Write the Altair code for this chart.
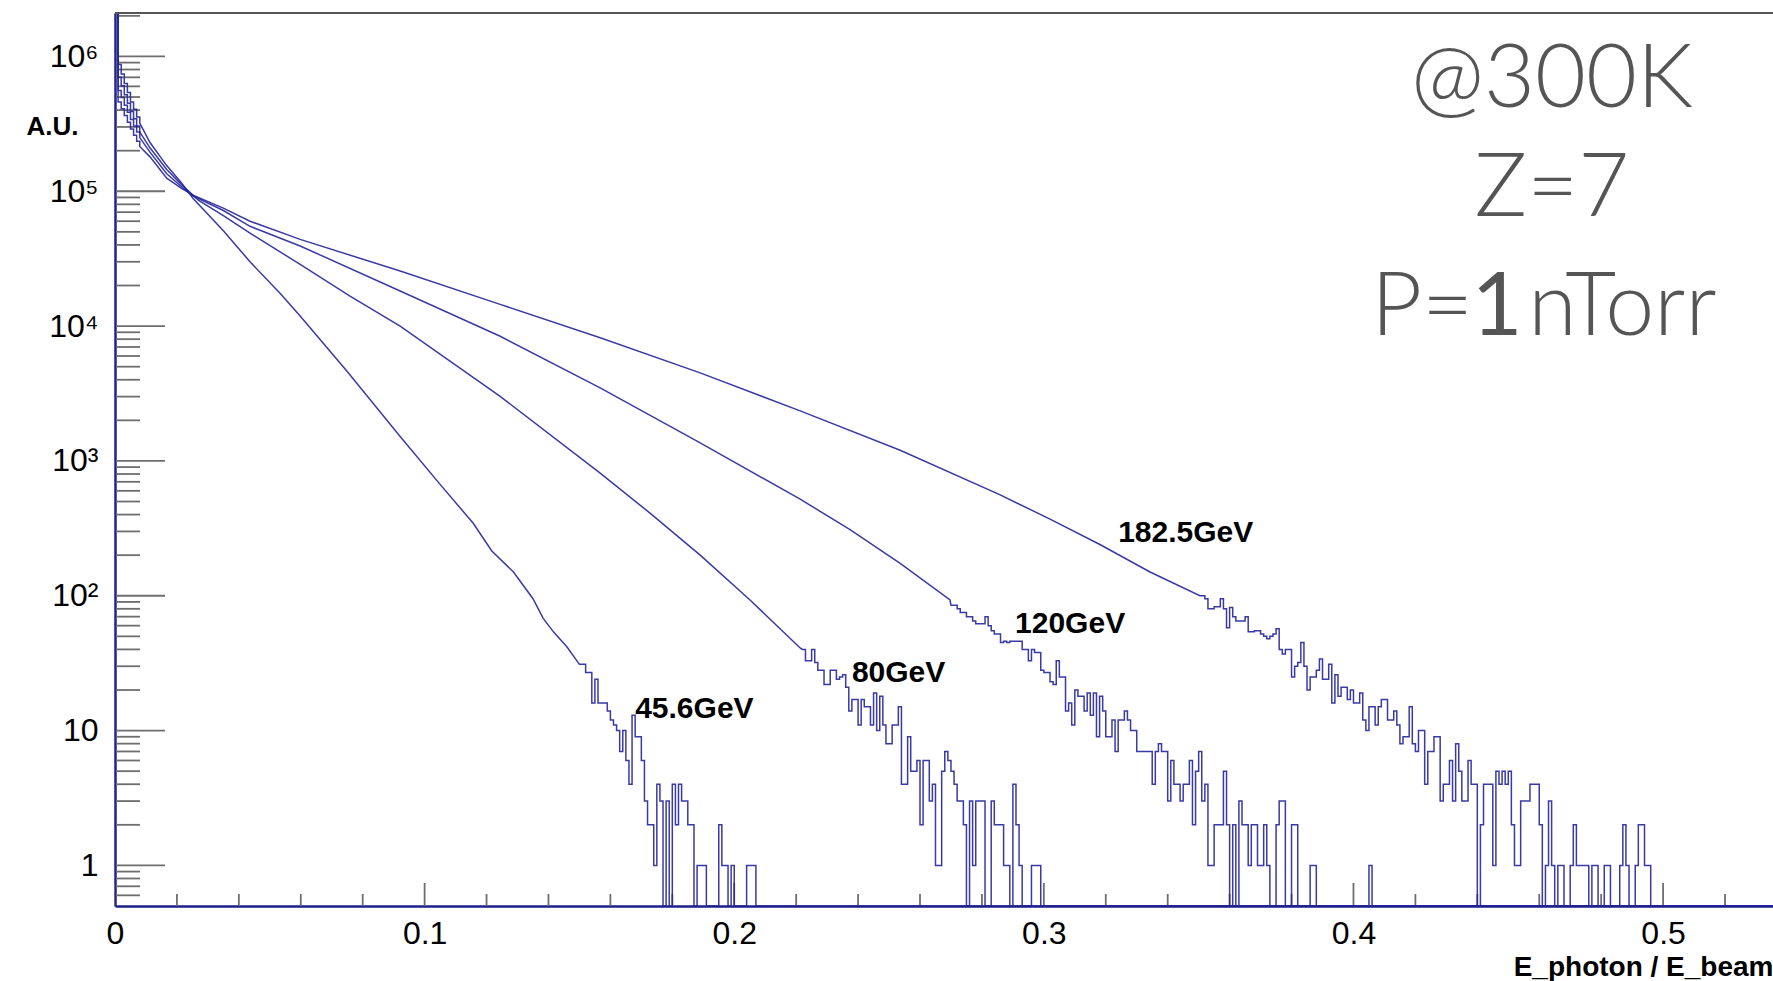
import altair as alt
import pandas as pd

# ---------------------------------------------------------------------------
# Photon spectrum E_photon / E_beam, histograms with 0.001-wide bins
# ---------------------------------------------------------------------------
BIN_W = 0.001
Y_MIN, Y_MAX = 0.5, 2.1e6
X_MAX = 0.5355
W, H = 1658, 893

FONT = "Liberation Sans"
LINE_COLOR = "#25259c"
TICK_COLOR = "#6e6e6e"

series_names = ["45.6GeV", "80GeV", "120GeV", "182.5GeV"]

# --- 45.6 GeV -------------------------------------------------------------
head_456 = [3.0e6, 8.7e5, 7.4e5, 6.3e5, 5.4e5, 4.6e5, 4.05e5, 3.55e5]
knots_456_x = [0.008, 0.0113, 0.0167, 0.0215, 0.0253, 0.035, 0.0436, 0.0533, 0.0598,
               0.075, 0.0921, 0.105, 0.1157, 0.1217, 0.1287, 0.135, 0.1383, 0.1416, 0.146]
knots_456_v = [3.2e5, 2.3e5, 1.55e5, 1.15e5, 8.8e4, 5.1e4, 3.0e4, 1.75e4, 1.19e4,
               4.6e3, 1.52e3, 670, 345, 215, 150, 95, 68, 54, 41.7]
tail_456_start = 150
tail_456 = [31, 31, 27, 27, 16, 24, 16, 16, 16, 14, 12, 11, 10, 7, 10, 6, 4, 13, 9, 9,
            6, 3, 2, 2, 1, 4, 3, 0, 3, 0, 4, 2, 4, 3, 3, 2, 2, 0, 1, 1,
            1, 0, 0, 0, 0, 2, 1, 1, 0, 1, 0, 0, 0, 0, 1, 1, 1]

# --- 80 GeV ---------------------------------------------------------------
head_80 = [3.0e6, 7.0e5, 6.05e5, 5.2e5, 4.5e5, 3.9e5, 3.45e5, 3.05e5]
knots_80_x = [0.008, 0.0113, 0.0167, 0.0215, 0.0269, 0.035, 0.0436, 0.0598, 0.0759,
              0.0921, 0.1244, 0.1567, 0.1728, 0.189, 0.2051, 0.2213]
knots_80_v = [2.75e5, 2.1e5, 1.45e5, 1.12e5, 8.6e4, 6.6e4, 4.9e4, 2.87e4, 1.67e4,
              9.98e3, 3.01e3, 813, 410, 200, 93, 41]
tail_80_start = 222
tail_80 = [40, 33, 33, 40, 32, 28, 28, 22, 22, 28, 28, 24, 25, 26, 21, 14, 17, 17, 11, 17,
           15, 15, 11, 19, 10, 18, 11, 8, 8, 11, 11, 15, 4, 4, 9, 5, 5, 6, 2, 6,
           6, 3, 4, 1, 1, 5, 7, 6, 5, 4, 3, 3, 2, 0, 3, 1, 3, 3, 3, 0,
           0, 3, 2, 2, 2, 1, 1, 0, 4, 2, 1, 0, 0, 0, 1, 1, 1]

# --- 120 GeV --------------------------------------------------------------
head_120 = [3.0e6, 5.6e5, 4.95e5, 4.35e5, 3.85e5, 3.4e5, 3.05e5, 2.75e5]
knots_120_x = [0.008, 0.0113, 0.0167, 0.0215, 0.025, 0.035, 0.0436, 0.0598, 0.0921,
               0.1244, 0.1567, 0.189, 0.2213, 0.2374, 0.2536, 0.2697]
knots_120_v = [2.5e5, 1.95e5, 1.35e5, 1.08e5, 9.3e4, 7.2e4, 5.5e4, 3.93e4, 1.82e4,
               8.41e3, 3.48e3, 1.36e3, 520, 310, 174, 93]
tail_120_start = 270
tail_120 = [85, 85, 80, 75, 75, 70, 70, 65, 62, 62, 62, 70, 60, 55, 52, 52, 45, 46, 45, 46,
            46, 46, 46, 40, 40, 33, 40, 38, 38, 28, 27, 27, 23, 22, 33, 25, 25, 14, 16, 11,
            20, 18, 18, 14, 19, 13, 19, 9, 18, 14, 9, 9, 12, 7, 12, 12, 14, 12, 10, 10,
            7, 7, 7, 7, 7, 4, 7, 8, 7, 7, 3, 6, 4, 4, 3, 4, 4, 6, 2, 5,
            7, 3, 4, 1, 1, 2, 2, 2, 5, 2, 0, 2, 0, 3, 2, 2, 1, 2, 2, 1,
            1, 2, 1, 0, 0, 2, 3, 3, 0, 0, 2, 2, 0, 0, 0, 0, 1, 1, 0, 0,
            0, 0, 0, 0, 0, 0, 0, 0, 0, 0, 0, 0, 0, 0, 0, 1]

# --- 182.5 GeV ------------------------------------------------------------
head_1825 = [3.0e6, 4.6e5, 4.1e5, 3.65e5, 3.25e5, 2.9e5, 2.6e5, 2.35e5]
knots_1825_x = [0.008, 0.0113, 0.0167, 0.0215, 0.025, 0.035, 0.0436, 0.0598, 0.0921,
                0.1244, 0.1567, 0.189, 0.2213, 0.2536, 0.2859, 0.302, 0.3181, 0.3343, 0.3504]
knots_1825_v = [2.15e5, 1.8e5, 1.25e5, 1.05e5, 9.4e4, 7.5e4, 6.0e4, 4.4e4, 2.56e4,
                1.45e4, 8.2e3, 4.5e3, 2.35e3, 1.2e3, 560, 370, 240, 150, 100]
tail_1825_start = 351
tail_1825 = [100, 95, 80, 80, 83, 83, 95, 80, 58, 82, 70, 65, 65, 65, 70, 54, 54, 55, 55, 52,
             50, 48, 50, 52, 57, 40, 37, 40, 40, 25, 30, 32, 45, 30, 20, 25, 25, 28, 34, 24,
             24, 31, 16, 26, 18, 21, 21, 17, 20, 16, 16, 19, 12, 10, 15, 15, 11, 15, 17, 17,
             12, 12, 14, 11, 8, 9, 9, 15, 8, 7, 10, 10, 4, 7, 7, 9, 9, 3, 4, 4,
             6, 3, 8, 5, 3, 3, 6, 4, 4, 0, 2, 4, 4, 4, 1, 5, 4, 5, 4, 5,
             2, 1, 1, 3, 3, 3, 4, 4, 4, 2, 0, 1, 3, 1, 0, 1, 1, 0, 0, 1,
             2, 1, 1, 1, 1, 0, 1, 1, 0, 0, 1, 1, 0, 0, 0, 1, 2, 1, 0, 0,
             1, 2, 2, 1, 1]

# Curve labels (left end, baseline) in data coordinates
label_x = [0.168, 0.238, 0.2907, 0.324]
label_v = [12.3, 23, 52.6, 252]

# Run conditions
note_x = 0.4641
note_lines = ["@300K", "Z=7"]
note_v = [4.21e5, 6.52e4]
pressure_x = 0.4464
pressure_v = 8.66e3

# Axis labels
X_LABELS = [0, 0.1, 0.2, 0.3, 0.4, 0.5]
Y_MAJOR = [1, 10, 100, 1e3, 1e4, 1e5, 1e6]


def histogram_points(name, head, kx, kv, t0, tail):
    """Outline of one histogram: stepped head bins, sampled body, stepped tail."""
    pts = [(0.0, Y_MIN)]
    for i, h in enumerate(head):
        pts += [(i * BIN_W, h), ((i + 1) * BIN_W, h)]
    pts += list(zip(kx, kv))
    for j, c in enumerate(tail):
        lo = (t0 + j) * BIN_W
        val = c if c > 0 else Y_MIN  # empty bins sit on the frame bottom
        pts += [(lo, val), (lo + BIN_W, val)]
    pts.append((pts[-1][0], Y_MIN))
    pts.append((X_MAX, Y_MIN))
    return pd.DataFrame({
        "x": [p[0] for p in pts],
        "v": [p[1] for p in pts],
        "i": list(range(len(pts))),
        "series": name,
    })


hist_df = pd.concat([
    histogram_points(series_names[0], head_456, knots_456_x, knots_456_v, tail_456_start, tail_456),
    histogram_points(series_names[1], head_80, knots_80_x, knots_80_v, tail_80_start, tail_80),
    histogram_points(series_names[2], head_120, knots_120_x, knots_120_v, tail_120_start, tail_120),
    histogram_points(series_names[3], head_1825, knots_1825_x, knots_1825_v, tail_1825_start, tail_1825),
], ignore_index=True)

# Tick positions (ROOT style: ticks inside the frame)
y_minor = [m * 10 ** k for k in range(-1, 7) for m in range(2, 10) if Y_MIN < m * 10 ** k < Y_MAX]
x_minor = [round(k * 0.02, 2) for k in range(1, 27) if k % 5 != 0]

sup = {2: "²", 3: "³", 4: "⁴", 5: "⁵", 6: "⁶"}
y_label_expr = "datum.value < 5 ? '1' : datum.value < 50 ? '10' : " + " : ".join(
    f"datum.value < {5 * 10 ** k} ? '10{sup[k]}'" for k in range(2, 6)
) + " : '10⁶'"

x_scale = alt.Scale(domain=[0, X_MAX], nice=False, zero=False)
y_scale = alt.Scale(type="log", domain=[Y_MIN, Y_MAX], nice=False)

x_axis = alt.Axis(
    values=X_LABELS, format="~g", grid=False, ticks=False, tickSize=0,
    domainColor="#1f1f8a", domainWidth=2.5,
    labelFont=FONT, labelFontSize=32, labelColor="black", labelPadding=12,
    labelFlush=False, labelOverlap=False,
    title="E_photon / E_beam", titleFont=FONT, titleFontSize=28, titleFontWeight="bold",
    titleColor="black", titleAnchor="end", titleAlign="right", titleX=W, titleY=69,
    titleBaseline="alphabetic",
)
y_axis = alt.Axis(
    values=Y_MAJOR, labelExpr=y_label_expr, grid=False, ticks=False, tickSize=0,
    domainColor="#1f1f8a", domainWidth=2.5,
    labelFont=FONT, labelFontSize=32, labelColor="black", labelPadding=17,
    labelBaseline="middle", labelFlush=False, labelOverlap=False,
    title="A.U.", titleFont=FONT, titleFontSize=26, titleFontWeight="bold", titleColor="black",
    titleAngle=0, titleAlign="left", titleBaseline="alphabetic", titleX=-89, titleY=121,
)


def X(field="x"):
    return alt.X(f"{field}:Q", scale=x_scale, axis=x_axis)


def Y(field="v"):
    return alt.Y(f"{field}:Q", scale=y_scale, axis=y_axis)


y_major_ticks = alt.Chart(pd.DataFrame({"v": Y_MAJOR})).mark_rule(
    color=TICK_COLOR, strokeWidth=1.8
).encode(y=Y(), x=alt.value(0), x2=alt.value(50))

y_minor_ticks = alt.Chart(pd.DataFrame({"v": y_minor})).mark_rule(
    color=TICK_COLOR, strokeWidth=1.8
).encode(y=Y(), x=alt.value(0), x2=alt.value(25))

x_major_ticks = alt.Chart(pd.DataFrame({"x": X_LABELS})).mark_rule(
    color=TICK_COLOR, strokeWidth=1.8
).encode(x=X(), y=alt.value(H), y2=alt.value(H - 23))

x_minor_ticks = alt.Chart(pd.DataFrame({"x": x_minor})).mark_rule(
    color=TICK_COLOR, strokeWidth=1.8
).encode(x=X(), y=alt.value(H), y2=alt.value(H - 12))

frame_top = alt.Chart(pd.DataFrame({"v": [Y_MAX]})).mark_rule(
    color="#555555", strokeWidth=2
).encode(y=Y())

hist = alt.Chart(hist_df).mark_line(
    clip=True, strokeWidth=1.5, color=LINE_COLOR, opacity=0.9
).encode(x=X(), y=Y(), detail="series:N", order="i:Q")

curve_labels = alt.Chart(pd.DataFrame({"x": label_x, "v": label_v, "t": series_names})).mark_text(
    align="left", baseline="alphabetic", font=FONT, fontSize=30, fontWeight="bold", color="black"
).encode(x=X(), y=Y(), text="t:N")

notes = alt.Chart(pd.DataFrame({"x": [note_x] * 2, "v": note_v, "t": note_lines})).mark_text(
    align="center", baseline="alphabetic", font="Lato", fontSize=88, fontWeight=300, color="#555555"
).encode(x=X(), y=Y(), text="t:N")

p_df = pd.DataFrame({"x": [pressure_x], "v": [pressure_v]})
p_left = alt.Chart(p_df).mark_text(
    align="right", baseline="alphabetic", dx=-24, font="Lato", fontSize=88, fontWeight=300, color="#555555"
).encode(x=X(), y=Y(), text=alt.value("P="))
p_one = alt.Chart(p_df).mark_text(
    align="center", baseline="alphabetic", font="Lato", fontSize=88, fontWeight=400, color="#555555"
).encode(x=X(), y=Y(), text=alt.value("1"))
p_right = alt.Chart(p_df).mark_text(
    align="left", baseline="alphabetic", dx=31, font="Lato", fontSize=88, fontWeight=300, color="#555555"
).encode(x=X(), y=Y(), text=alt.value("nTorr"))

chart = alt.layer(
    y_minor_ticks, y_major_ticks, x_minor_ticks, x_major_ticks,
    hist, frame_top, curve_labels, notes, p_left, p_one, p_right,
).properties(
    width=W, height=H,
    autosize=alt.AutoSizeParams(type="none"),
    padding={"left": 115, "top": 13, "right": 0, "bottom": 75},
    background="white",
).configure_view(strokeWidth=0)

chart.save("out.html", embed_options={"renderer": "svg", "actions": False})
